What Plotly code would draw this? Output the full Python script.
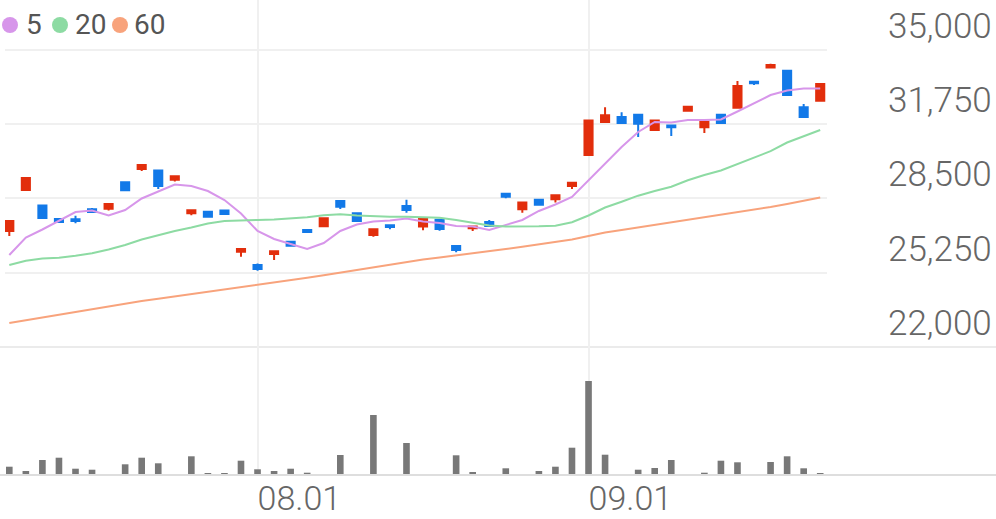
import plotly.graph_objects as go

# ---------------- data ----------------
dates = ["07.11", "07.14", "07.15", "07.16", "07.17", "07.18", "07.21", "07.22", "07.23", "07.24",
         "07.25", "07.28", "07.29", "07.30", "07.31",
         "08.01", "08.04", "08.05", "08.06", "08.07", "08.08", "08.11", "08.12", "08.13", "08.14",
         "08.18", "08.19", "08.20", "08.21", "08.22", "08.25", "08.26", "08.27", "08.28", "08.29",
         "09.01", "09.02", "09.03", "09.04", "09.05", "09.08", "09.09", "09.10", "09.11", "09.12",
         "09.15", "09.16", "09.17", "09.18", "09.19"]

opens = [27080, 28870, 28190, 27600, 27590, 28030, 28050, 29210, 29790, 29720,
         29320, 27850, 27920, 27970, 26170, 25590, 26070, 26610, 27120, 27280,
         28390, 27850, 26900, 27330, 28170, 27270, 27570, 26420, 27200, 27470,
         28710, 28030, 28450, 28470, 29050, 30400, 31850, 32070, 32170, 31500,
         31690, 32340, 31620, 32160, 32470, 33610, 34230, 34090, 32490, 32780]
highs = [27520, 29400, 28190, 27600, 27750, 28080, 28260, 29210, 29970, 29720,
         29470, 27990, 27920, 27970, 26290, 25660, 26190, 26610, 27120, 27630,
         28390, 27850, 27150, 27330, 28440, 27600, 27570, 26420, 27270, 27560,
         28710, 28320, 28450, 28640, 29190, 31910, 32490, 32270, 32170, 31910,
         31690, 32520, 31860, 32160, 33640, 33610, 34400, 34090, 32640, 33510]
lows = [26860, 28870, 27650, 27430, 27420, 27900, 27970, 28860, 29700, 28920,
        29240, 27770, 27700, 27820, 25950, 25340, 25810, 26430, 27030, 27280,
        28040, 27510, 26830, 27150, 27880, 27110, 27090, 26150, 27080, 27300,
        28510, 27880, 28230, 28320, 28920, 30400, 31850, 31800, 31190, 31500,
        31240, 32340, 31370, 31800, 32470, 33470, 34230, 33030, 32070, 32780]
closes = [27520, 29400, 27650, 27470, 27520, 27910, 28260, 28860, 29970, 29050,
          29470, 27990, 27700, 27820, 26290, 25410, 26190, 26430, 27030, 27630,
          28140, 27510, 27150, 27250, 28000, 27600, 27170, 26250, 27270, 27300,
          28580, 28320, 28230, 28640, 29190, 31910, 32140, 31800, 31770, 31910,
          31620, 32520, 31860, 31800, 33420, 33540, 34340, 33030, 32070, 33510]

volumes = [166, 80, 300, 346, 126, 106, 20, 214, 346, 234,
           6, 374, 26, 40, 286, 114, 80, 126, 46, 14,
           400, 20, 1200, 6, 640, 6, 20, 394, 60, 10,
           134, 6, 80, 166, 546, 1880, 406, 10, 106, 140,
           300, 10, 46, 286, 254, 10, 260, 374, 134, 40]

ma5 = [26027, 26793, 27143, 27515, 27909, 27975, 27756, 27997, 28500, 28807,
       29113, 29047, 28828, 28434, 27844, 27078, 26727, 26509, 26290, 26552,
       27078, 27362, 27493, 27537, 27625, 27493, 27428, 27296, 27275, 27121,
       27340, 27559, 27953, 28238, 28566, 29310, 30032, 30754, 31411, 31849,
       31827, 31936, 31936, 31958, 32308, 32680, 33030, 33227, 33315, 33315]
ma20 = [25589, 25778, 25874, 25909, 25996, 26102, 26268, 26465, 26706, 26903,
        27078, 27231, 27406, 27515, 27550, 27559, 27581, 27616, 27677, 27765,
        27813, 27756, 27725, 27704, 27704, 27677, 27655, 27559, 27428, 27318,
        27275, 27275, 27283, 27310, 27459, 27756, 28106, 28360, 28623, 28828,
        29017, 29297, 29529, 29726, 30002, 30273, 30570, 30951, 31214, 31498]
ma60 = [23051, 23173, 23292, 23410, 23532, 23650, 23773, 23891, 24014, 24110,
        24211, 24311, 24408, 24504, 24605, 24701, 24802, 24911, 25029, 25143,
        25261, 25379, 25493, 25611, 25721, 25830, 25918, 26005, 26093, 26189,
        26290, 26390, 26495, 26596, 26706, 26859, 27012, 27121, 27231, 27340,
        27450, 27559, 27668, 27778, 27887, 27997, 28128, 28259, 28391, 28544]

ma_names = ["5", "20", "60"]
ma_colors = ["#d796ea", "#8ddba3", "#f8a37c"]

price_ticks = [22000, 25250, 28500, 31750, 35000]
date_ticks = ["08.01", "09.01"]

# ---------------- styling ----------------
W, H = 996, 519
RED = "#e22e0c"
BLUE = "#1279e8"
GRID = "#f0f0f0"
FONT = "Roboto"


def fx(px):
    return px / W


def fy(px):
    return 1 - px / H


fig = go.Figure()

for name, vals, col in zip(ma_names, [ma5, ma20, ma60], ma_colors):
    fig.add_trace(go.Scatter(x=dates, y=vals, mode="lines", name=name,
                             line=dict(color=col, width=2),
                             xaxis="x", yaxis="y", showlegend=False, hoverinfo="skip"))

fig.add_trace(go.Candlestick(
    x=dates, open=opens, high=highs, low=lows, close=closes,
    increasing=dict(line=dict(color=RED, width=2), fillcolor=RED),
    decreasing=dict(line=dict(color=BLUE, width=2), fillcolor=BLUE),
    xaxis="x", yaxis="y", showlegend=False))

fig.add_trace(go.Bar(x=dates, y=volumes, marker=dict(color="#787878", line=dict(width=0)),
                     width=0.4, xaxis="x", yaxis="y2", showlegend=False))

shapes = [
    dict(type="line", xref="paper", yref="paper", x0=0, x1=1, y0=fy(347), y1=fy(347),
         line=dict(color="#ebebeb", width=2), layer="below"),
    dict(type="line", xref="paper", yref="paper", x0=0, x1=1, y0=fy(475), y1=fy(475),
         line=dict(color="#dedede", width=2), layer="above"),
]
annotations = []
legend_dot_cx = [10, 60, 120]
legend_text_x = [24, 73, 132]
for name, col, cx, tx in zip(ma_names, ma_colors, legend_dot_cx, legend_text_x):
    shapes.append(dict(type="circle", xref="paper", yref="paper",
                       x0=fx(cx - 8), x1=fx(cx + 8), y0=fy(33), y1=fy(17),
                       fillcolor=col, line=dict(width=0)))
    annotations.append(dict(text=name, xref="paper", yref="paper", x=fx(tx), y=fy(25),
                            xanchor="left", yanchor="middle", showarrow=False,
                            font=dict(family=FONT, size=28, color="#555555")))

fig.update_layout(
    width=W, height=H,
    margin=dict(l=0, r=0, t=0, b=0),
    paper_bgcolor="white", plot_bgcolor="white",
    showlegend=False,
    xaxis=dict(domain=[fx(5), fx(827)], type="category", range=[-0.26, 49.41],
               tickmode="array", tickvals=date_ticks, ticktext=date_ticks,
               showgrid=True, gridcolor=GRID, gridwidth=2, zeroline=False, showline=False,
               ticks="", ticklabelposition="outside right", anchor="y2",
               tickfont=dict(family=FONT, size=34, color="#666666", weight=300),
               rangeslider=dict(visible=False), fixedrange=True),
    yaxis=dict(domain=[fy(347), 1], range=[22000, 37188], side="right", anchor="x",
               tickmode="array", tickvals=price_ticks, tickformat=",",
               showgrid=True, gridcolor=GRID, gridwidth=2, zeroline=False, showline=False,
               ticks="", ticklabelposition="outside top", ticklabelstandoff=60,
               tickfont=dict(family=FONT, size=35, color="#666666", weight=300)),
    yaxis2=dict(domain=[fy(475), fy(347)], range=[0, 2560], anchor="x",
                showgrid=False, zeroline=False, showline=False, showticklabels=False),
    shapes=shapes,
    annotations=annotations,
    bargap=0.6,
)

fig.write_html("out.html",
               config={"displayModeBar": False},
               post_script="document.body.style.margin='0px';document.body.style.overflow='hidden';")
